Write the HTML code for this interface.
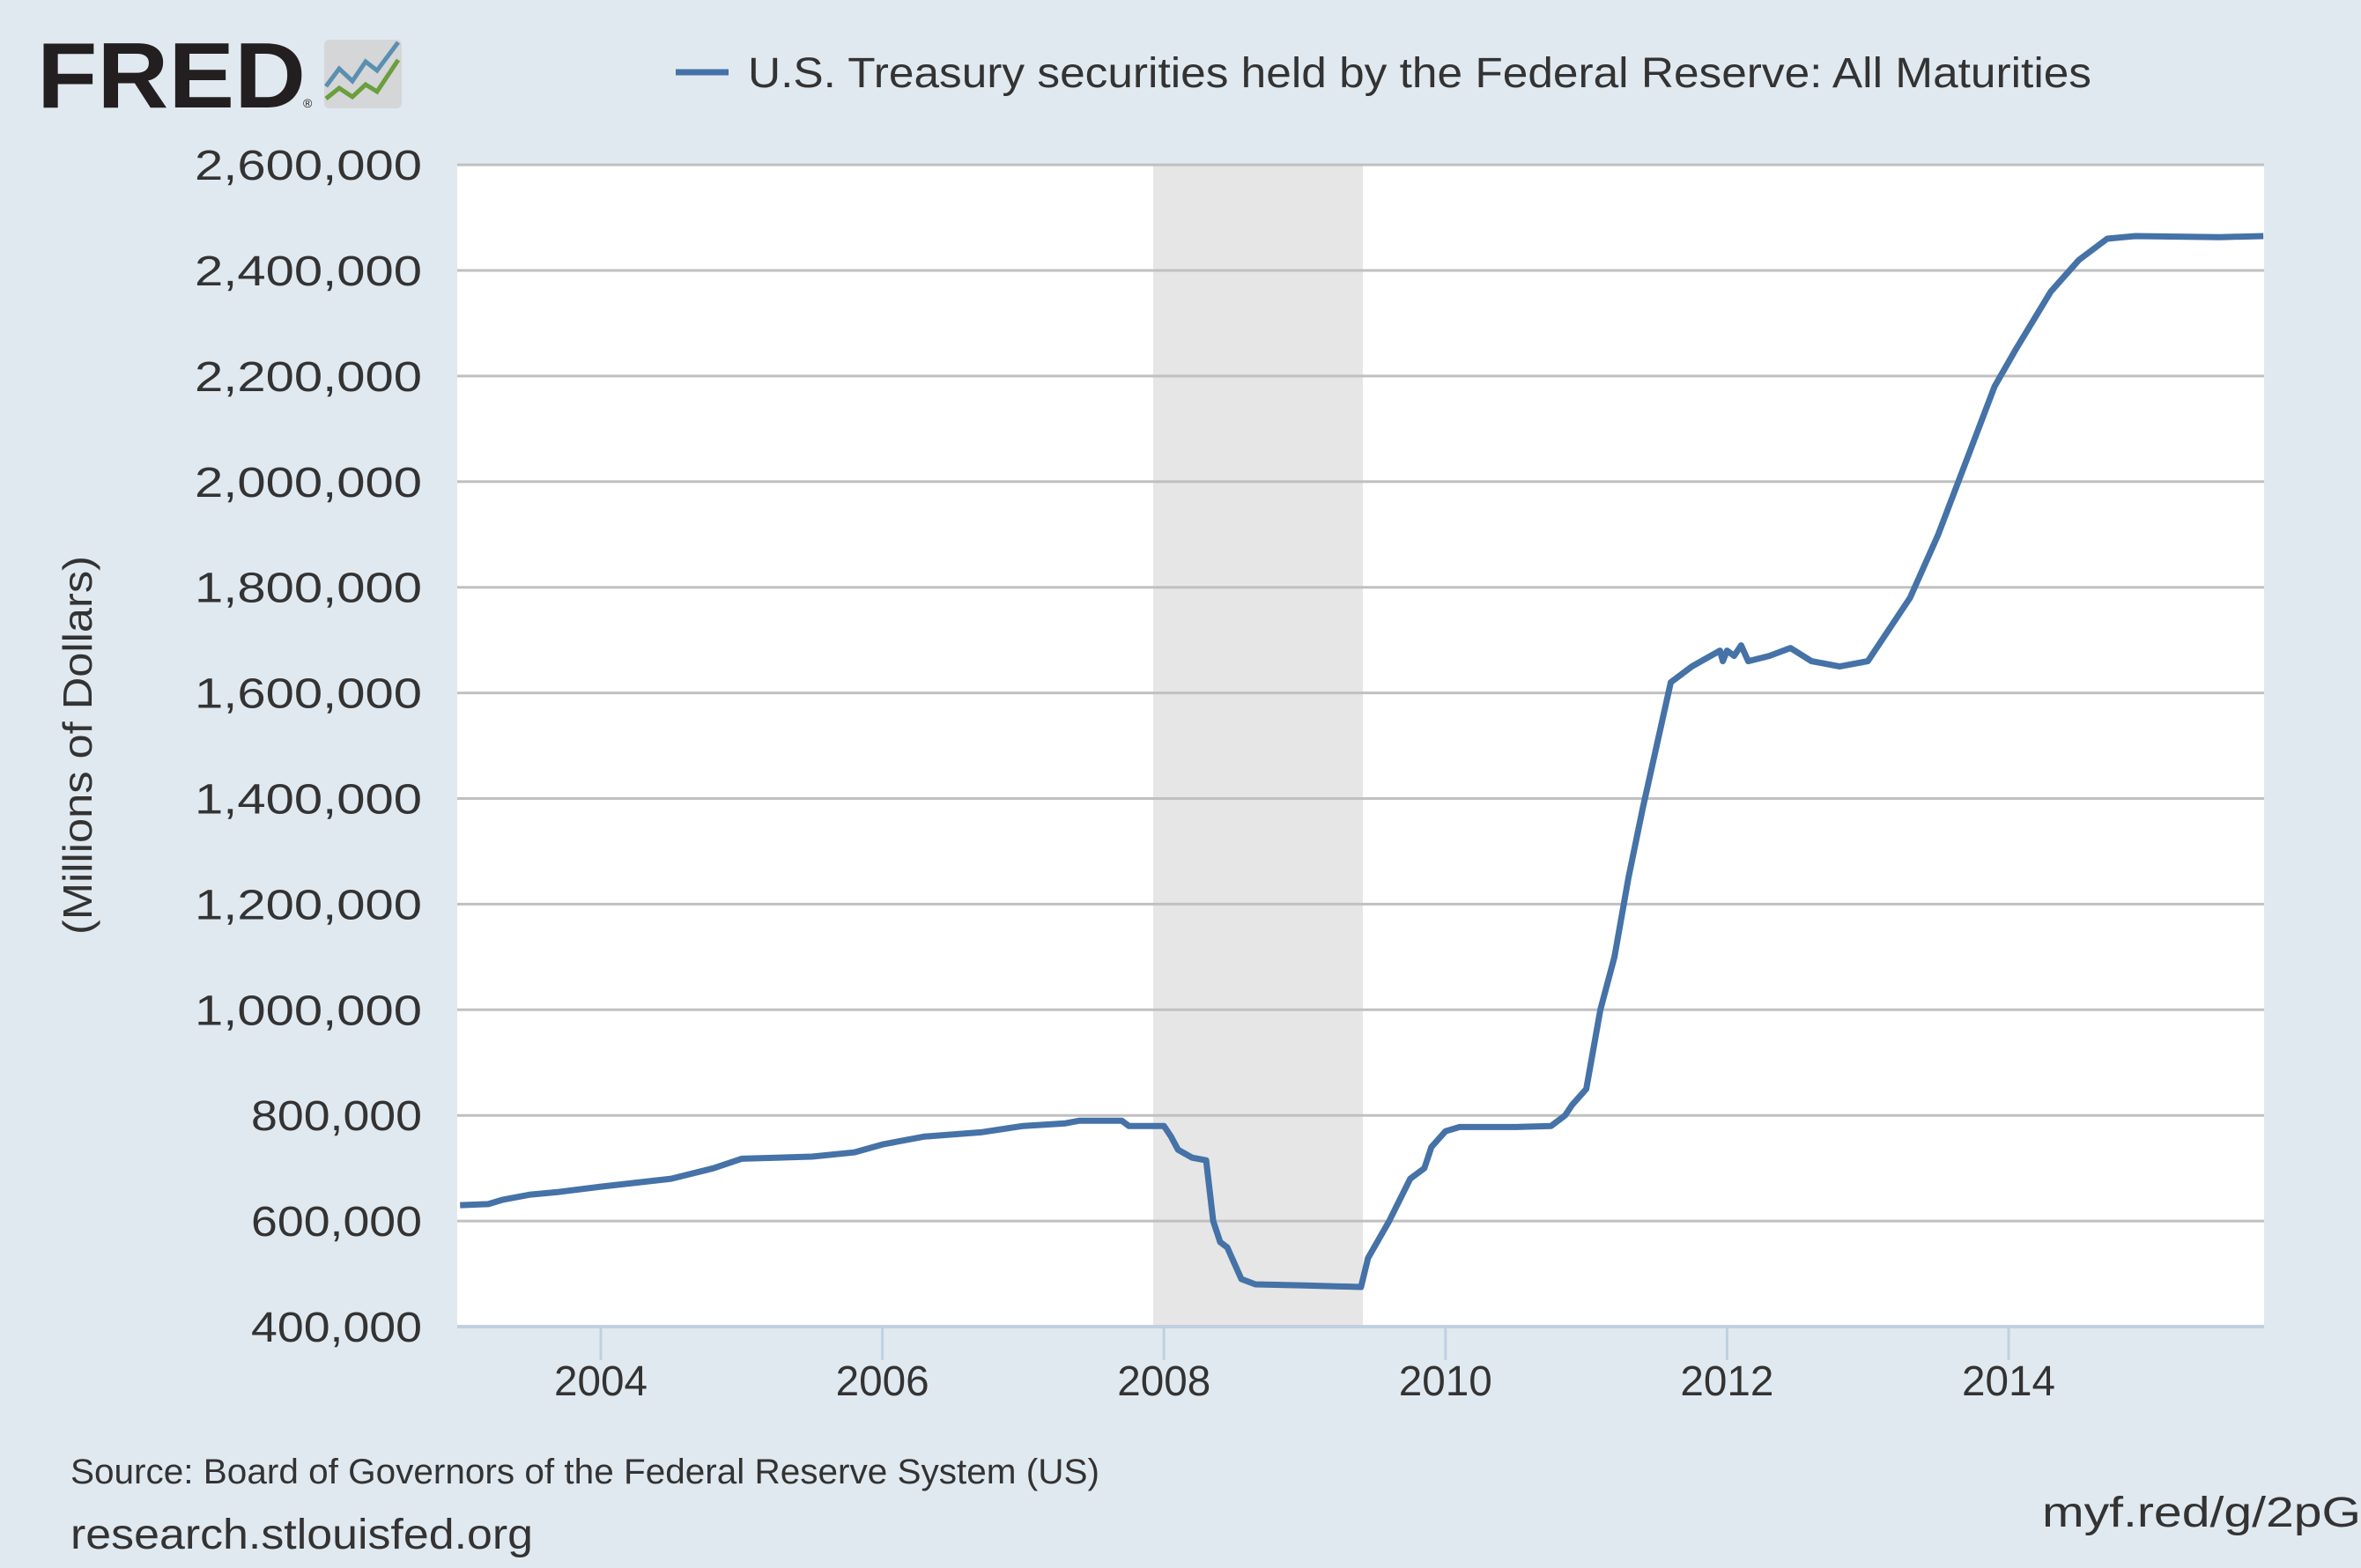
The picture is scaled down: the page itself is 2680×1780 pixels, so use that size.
<!DOCTYPE html>
<html><head><meta charset="utf-8"><style>
body{margin:0;width:2680px;height:1780px;background:#e1e9f0;overflow:hidden;font-family:"Liberation Sans",sans-serif;}
</style></head><body>
<svg width="2680" height="1780" xmlns="http://www.w3.org/2000/svg" style="position:absolute;left:0;top:0">
<rect x="0" y="0" width="2680" height="1780" fill="#e1e9f0"/>
<text x="42" y="122" font-family="Liberation Sans" font-weight="bold" font-size="106" fill="#231f20" textLength="305" lengthAdjust="spacingAndGlyphs">FRED</text>
<text x="344" y="122" font-size="14" fill="#231f20">®</text>
<rect x="368" y="45" width="88" height="78" rx="6" fill="#d4d6d8"/>
<polyline points="370,98 385,78 400,92 415,70 428,80 452,48" fill="none" stroke="#5b8fb0" stroke-width="5"/>
<polyline points="370,112 385,100 400,110 415,96 428,104 452,68" fill="none" stroke="#6b9e3c" stroke-width="5"/>
<line x1="767" y1="82" x2="827" y2="82" stroke="#4572a7" stroke-width="7"/>
<text x="849" y="99" font-size="48" fill="#333" textLength="1525" lengthAdjust="spacingAndGlyphs">U.S. Treasury securities held by the Federal Reserve: All Maturities</text>
<rect x="519" y="186" width="2051" height="1320" fill="#fff"/>
<rect x="1309" y="186" width="238" height="1320" fill="#e6e6e6"/>
<g id="grid" stroke="#c0c0c0" stroke-width="3"></g>
<g id="ylab" font-size="48" fill="#333" text-anchor="end"></g>
<line x1="519" y1="1506" x2="2570" y2="1506" stroke="#c0d0e0" stroke-width="4"/>
<g id="xt" stroke="#c0d0e0" stroke-width="3"></g>
<g id="xlab" font-size="48" fill="#333" text-anchor="middle"></g>
<path id="series" fill="none" stroke="#4572a7" stroke-width="7" stroke-linejoin="round"/>
<text transform="translate(104,846) rotate(-90)" text-anchor="middle" font-size="46" fill="#333" textLength="430" lengthAdjust="spacingAndGlyphs">(Millions of Dollars)</text>
<text x="80" y="1684" font-size="40" fill="#333" textLength="1168" lengthAdjust="spacingAndGlyphs">Source: Board of Governors of the Federal Reserve System (US)</text>
<text x="80" y="1758" font-size="48" fill="#333" textLength="525" lengthAdjust="spacingAndGlyphs">research.stlouisfed.org</text>
<text x="2680" y="1733" font-size="48" fill="#333" text-anchor="end" textLength="362" lengthAdjust="spacingAndGlyphs">myf.red/g/2pG</text>
</svg>
<script>
var ns="http://www.w3.org/2000/svg";
function Y(v){return 1506-(v-400)/200*119.9;}
function X(t){return 682+(t-2004)*159.8;}
var g=document.getElementById('grid'),yl=document.getElementById('ylab');
for(var v=400;v<=2600;v+=200){var y=Y(v);
 if(v>400){var l=document.createElementNS(ns,'line');l.setAttribute('x1',519);l.setAttribute('x2',2570);l.setAttribute('y1',y);l.setAttribute('y2',y);g.appendChild(l);}
 var t=document.createElementNS(ns,'text');t.setAttribute('x',479);t.setAttribute('y',y+17);
 var s=(v/1000>=1?Math.floor(v/1000)+','+String(v%1000).padStart(3,'0'):String(v))+',000';t.textContent=s;
 t.setAttribute('textLength',s.length>7?258:194);t.setAttribute('lengthAdjust','spacingAndGlyphs');yl.appendChild(t);}
var xt=document.getElementById('xt'),xl=document.getElementById('xlab');
for(var yr=2004;yr<=2014;yr+=2){var x=X(yr);
 var l=document.createElementNS(ns,'line');l.setAttribute('x1',x);l.setAttribute('x2',x);l.setAttribute('y1',1506);l.setAttribute('y2',1544);xt.appendChild(l);
 var t=document.createElementNS(ns,'text');t.setAttribute('x',x);t.setAttribute('y',1584);t.setAttribute('textLength',106);t.setAttribute('lengthAdjust','spacingAndGlyphs');t.textContent=yr;xl.appendChild(t);}
var d=[[2003.0,630],[2003.2,632],[2003.3,640],[2003.5,650],[2003.7,655],[2004.0,665],[2004.5,680],[2004.8,700],[2005.0,718],[2005.5,722],[2005.8,730],[2006.0,745],[2006.3,760],[2006.7,768],[2007.0,780],[2007.3,785],[2007.4,790],[2007.7,790],[2007.75,780],[2008.0,780],[2008.05,760],[2008.1,735],[2008.2,720],[2008.3,715],[2008.35,600],[2008.4,560],[2008.45,550],[2008.55,490],[2008.65,480],[2009.0,478],[2009.4,475],[2009.45,530],[2009.6,600],[2009.75,680],[2009.85,700],[2009.9,740],[2010.0,770],[2010.1,778],[2010.5,778],[2010.75,780],[2010.85,800],[2010.9,820],[2011.0,850],[2011.1,1000],[2011.2,1100],[2011.3,1250],[2011.4,1380],[2011.5,1500],[2011.6,1620],[2011.75,1650],[2011.95,1680],[2011.97,1660],[2012.0,1680],[2012.05,1670],[2012.1,1690],[2012.15,1660],[2012.3,1670],[2012.45,1685],[2012.6,1660],[2012.8,1650],[2013.0,1660],[2013.1,1700],[2013.3,1780],[2013.5,1900],[2013.7,2040],[2013.9,2180],[2014.05,2250],[2014.3,2360],[2014.5,2420],[2014.7,2460],[2014.9,2465],[2015.5,2463],[2015.81,2465]];
var p=d.map(function(a,i){return (i?'L':'M')+X(a[0]).toFixed(1)+','+Y(a[1]).toFixed(1);}).join(' ');
document.getElementById('series').setAttribute('d',p);
</script>
</body></html>
